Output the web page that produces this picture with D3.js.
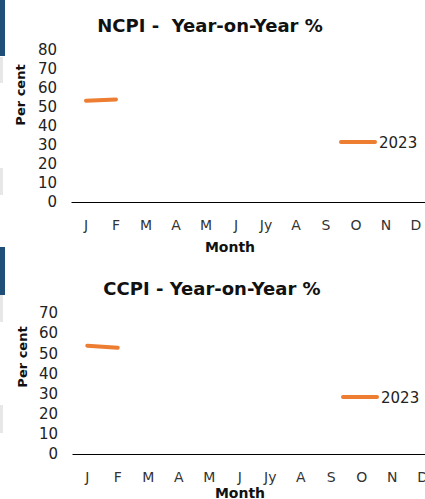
<!DOCTYPE html>
<html>
<head>
<meta charset="utf-8">
<script src="https://cdn.jsdelivr.net/npm/d3@7"></script>
<style>
  html, body { margin: 0; padding: 0; background: #fff; }
  svg { display: block; }
  text { font-family: "DejaVu Sans", "Liberation Sans", sans-serif; white-space: pre; }
</style>
</head>
<body>
<svg id="chart" width="425" height="499"></svg>
<script>
// Month tick labels (shared by both panels)
const months = ["J", "F", "M", "A", "M", "J", "Jy", "A", "S", "O", "N", "D"];

// Year-on-year inflation, 2023 (only January and February available)
const ncpi2023 = [53.3, 54.0];
const ccpi2023 = [53.8, 52.8];

// Y-axis ticks for each panel
const ncpiTicks = [0, 10, 20, 30, 40, 50, 60, 70, 80];
const ccpiTicks = [0, 10, 20, 30, 40, 50, 60, 70];

const seriesName = "2023";
const lineColor = "#ED7D31";

const svg = d3.select("#chart");

// Decorative page-edge strips
const strips = [
  { y: 0, h: 56, w: 5, c: "#1F4E79" },
  { y: 57, h: 26, w: 3, c: "#E7E7E7" },
  { y: 168, h: 27, w: 3, c: "#E7E7E7" },
  { y: 247, h: 48, w: 5, c: "#1F4E79" },
  { y: 295, h: 27, w: 3, c: "#E7E7E7" },
  { y: 405, h: 28, w: 3, c: "#E7E7E7" }
];
svg.selectAll("rect.strip").data(strips).join("rect")
  .attr("class", "strip")
  .attr("x", 0).attr("y", d => d.y)
  .attr("width", d => d.w).attr("height", d => d.h)
  .attr("fill", d => d.c);

function panel(cfg) {
  const g = svg.append("g");
  const x = d3.scaleBand().domain(d3.range(months.length)).range(cfg.xRange);
  const y = d3.scaleLinear().domain([0, d3.max(cfg.ticks)]).range(cfg.yRange);

  // Title
  g.append("text")
    .attr("x", cfg.titleX).attr("y", cfg.titleY)
    .attr("text-anchor", "middle")
    .attr("font-size", 18).attr("font-weight", "bold").attr("fill", "#111")
    .text(cfg.title);

  // Y axis (labels only)
  const yAxis = g.append("g")
    .attr("transform", `translate(${cfg.xRange[0] - 14},0)`)
    .call(d3.axisLeft(y).tickValues(cfg.ticks).tickSize(0).tickPadding(0));
  yAxis.select(".domain").remove();
  yAxis.selectAll("text").attr("font-size", 15).attr("fill", "#222")
    .style("font-family", '"DejaVu Sans", sans-serif');

  // X axis: baseline + month labels
  const xAxis = g.append("g")
    .attr("transform", `translate(0,${cfg.yRange[0]})`)
    .call(d3.axisBottom(x).tickFormat(i => months[i]).tickSize(0).tickPadding(18));
  xAxis.select(".domain").attr("stroke", "#000").attr("stroke-width", 1.2);
  xAxis.selectAll("text").attr("font-size", 14).attr("fill", "#333")
    .style("font-family", '"DejaVu Sans", sans-serif');

  // Axis titles
  g.append("text")
    .attr("transform", `translate(${cfg.yLabelX},${cfg.yLabelY}) rotate(-90)`)
    .attr("text-anchor", "middle")
    .attr("font-size", 13).attr("font-weight", "bold").attr("fill", "#111")
    .text("Per cent");
  g.append("text")
    .attr("x", cfg.monthX).attr("y", cfg.monthY)
    .attr("text-anchor", "middle")
    .attr("font-size", 14).attr("font-weight", "bold").attr("fill", "#111")
    .text("Month");

  // Series line
  const line = d3.line()
    .x((d, i) => x(i) + x.bandwidth() / 2)
    .y(d => y(d));
  g.append("path")
    .datum(cfg.values)
    .attr("d", line)
    .attr("fill", "none")
    .attr("stroke", lineColor)
    .attr("stroke-width", 4)
    .attr("stroke-linecap", "round");

  // Legend
  const lg = g.append("g").attr("transform", `translate(${cfg.legendX},${cfg.legendY})`);
  lg.append("line").attr("x1", 0).attr("x2", 34).attr("y1", 0).attr("y2", 0)
    .attr("stroke", lineColor).attr("stroke-width", 4).attr("stroke-linecap", "round");
  lg.append("text").attr("x", 38).attr("y", 5.5)
    .attr("font-size", 15).attr("fill", "#222").text(seriesName);
}

panel({
  title: "NCPI -  Year-on-Year %", titleX: 210, titleY: 32,
  values: ncpi2023, ticks: ncpiTicks,
  xRange: [71, 431], yRange: [202, 50],
  yLabelX: 25, yLabelY: 95, monthX: 230, monthY: 252,
  legendX: 341, legendY: 142
});

panel({
  title: "CCPI - Year-on-Year %", titleX: 212, titleY: 295,
  values: ccpi2023, ticks: ccpiTicks,
  xRange: [72, 438], yRange: [454, 313],
  yLabelX: 27, yLabelY: 357, monthX: 240, monthY: 498,
  legendX: 343, legendY: 397
});
</script>
</body>
</html>
